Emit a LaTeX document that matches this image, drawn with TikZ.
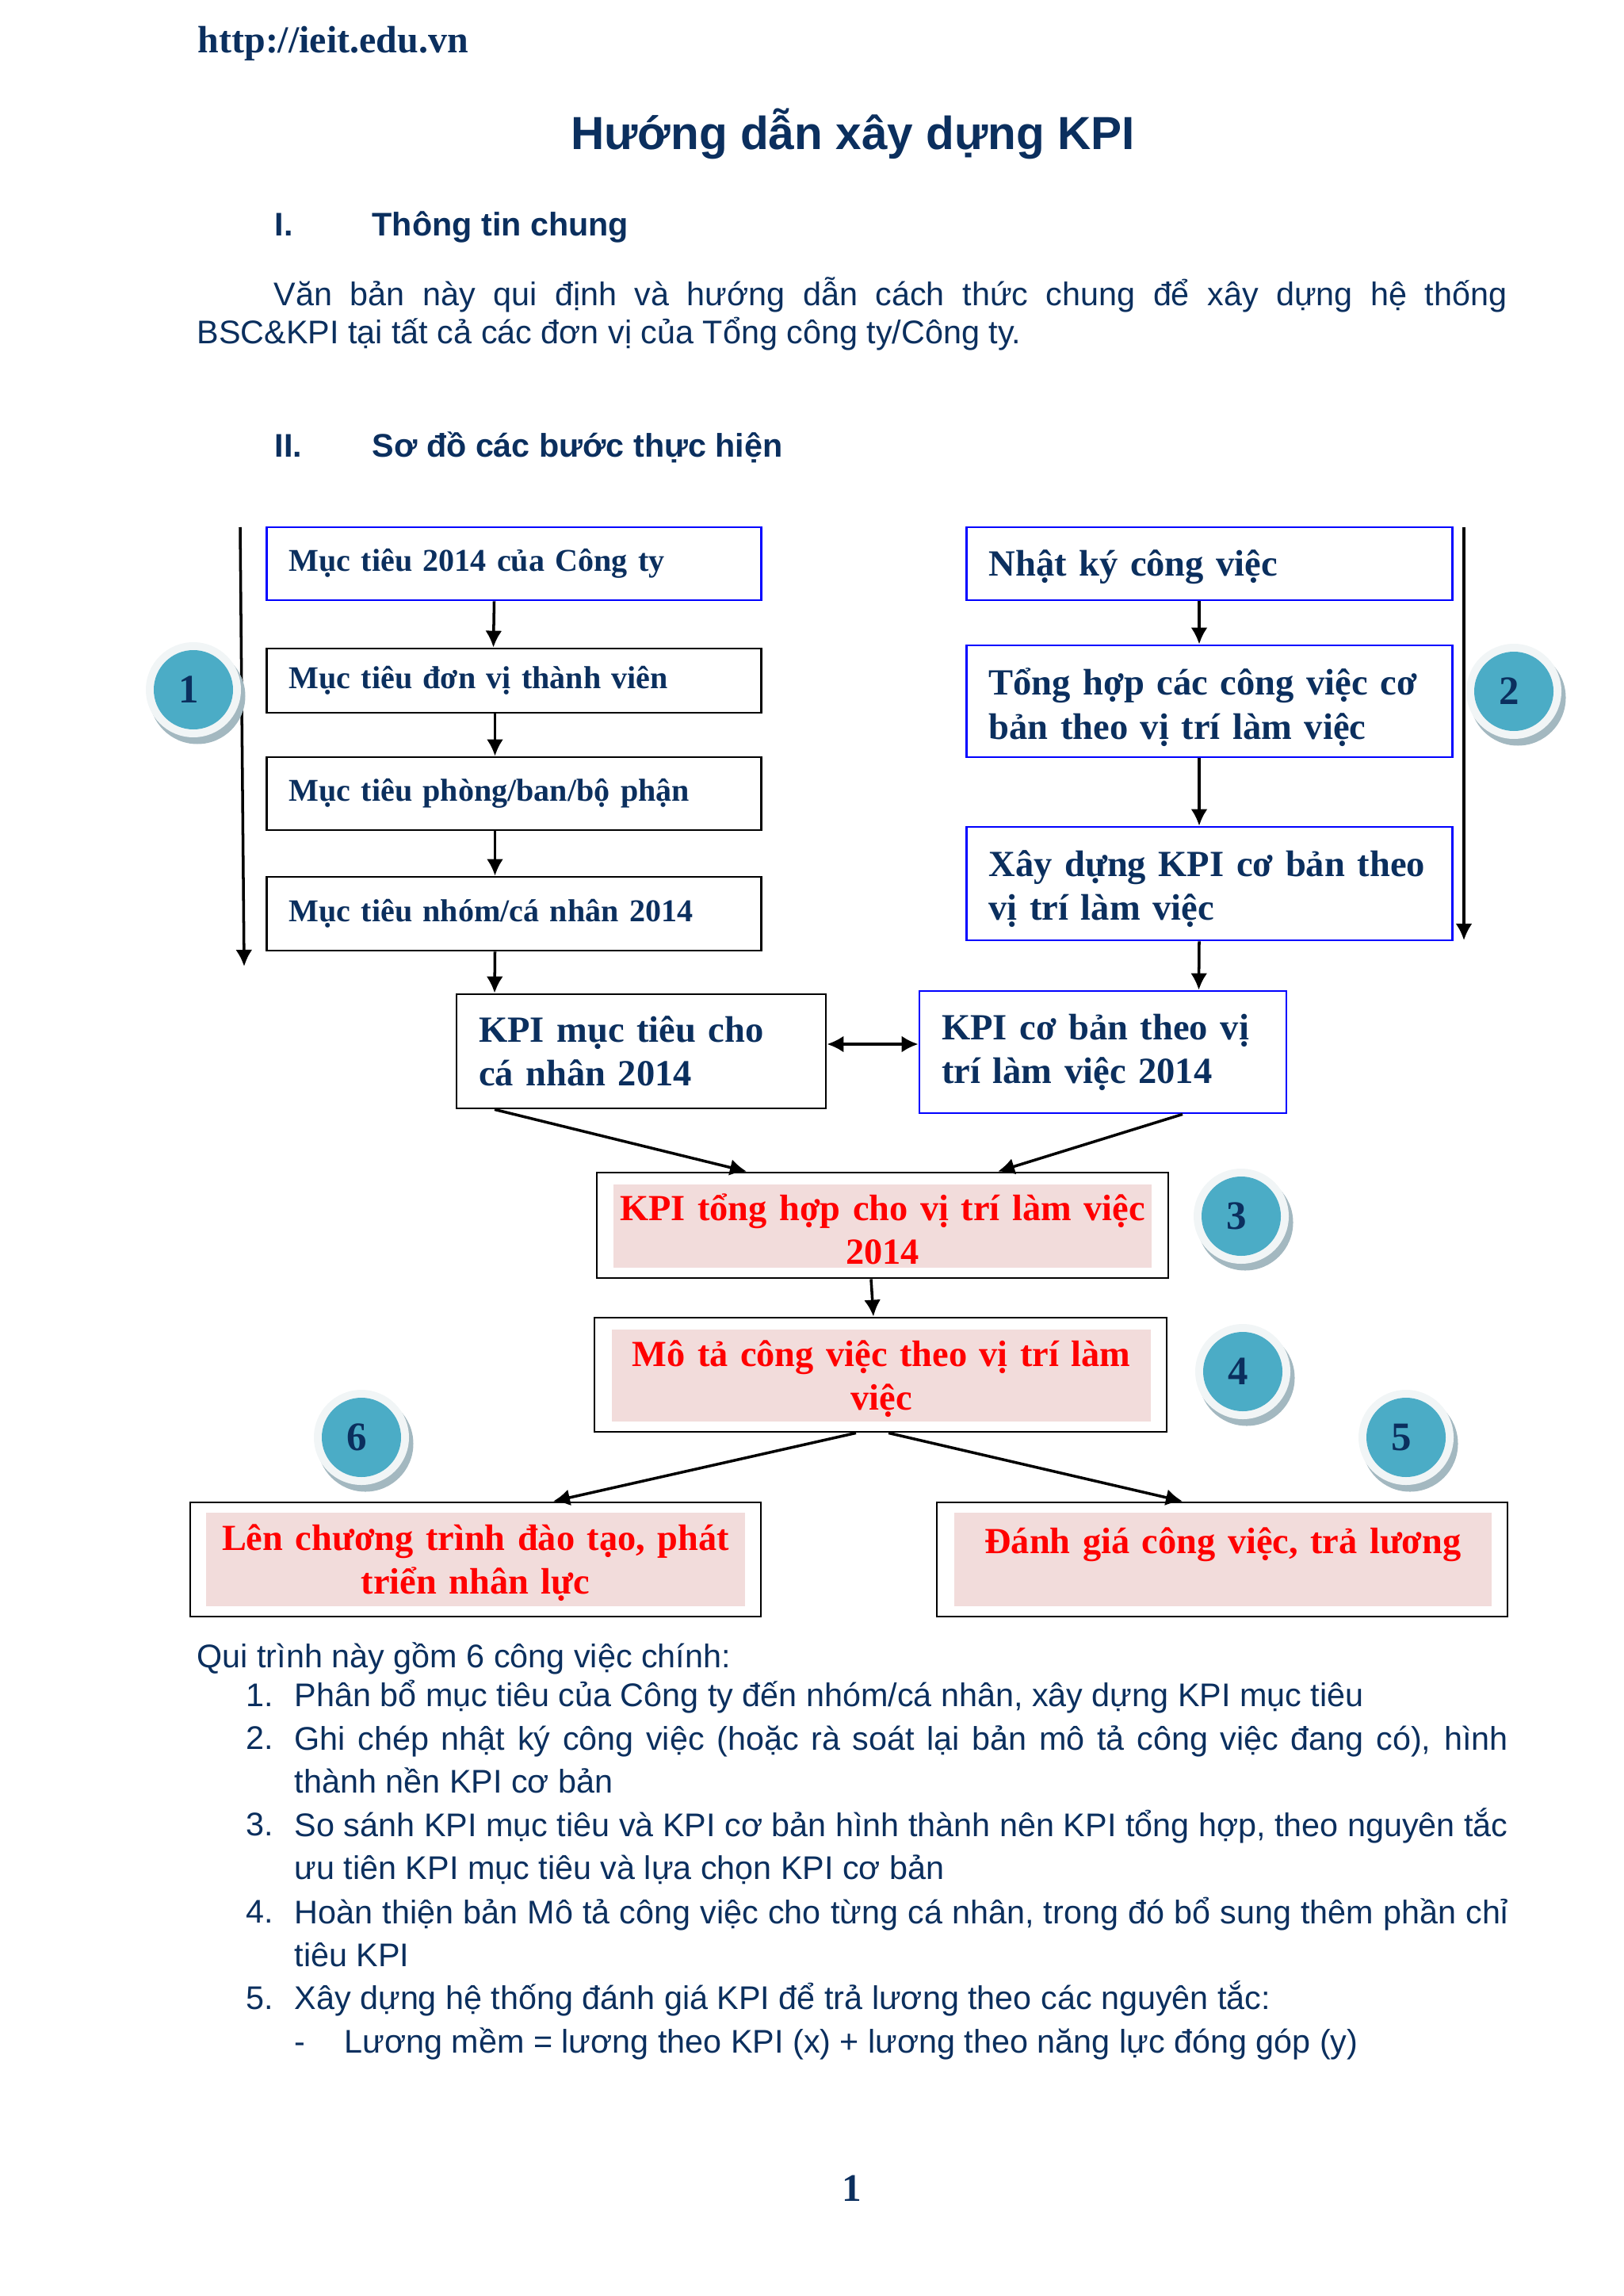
\documentclass[tikz,border=0pt]{standalone}
\usepackage{fontspec}
\setmainfont{Liberation Sans}
\newfontfamily\kpiserif{Liberation Serif}
\usepackage{xcolor}
\usetikzlibrary{arrows.meta,positioning}
\definecolor{kpinavy}{HTML}{0B2F5E}
\definecolor{kpipink}{HTML}{F2DCDB}
\definecolor{kputeal}{HTML}{4BACC6}
\definecolor{kpirim}{HTML}{F1F5F6}
\definecolor{kpishade}{HTML}{A3B8C0}
\tikzset{
  stepbox/.style={draw=black, line width=0.8pt, inner xsep=0.28cm, inner ysep=0pt, align=left, text=kpinavy, font=\kpiserif\bfseries\fontsize{11.4}{15.7}\selectfont},
  bluebox/.style={stepbox, draw=blue},
  bigbox/.style={font=\kpiserif\bfseries\fontsize{13.25}{15.7}\selectfont},
  lowertext/.style={execute at begin node={\rule{0pt}{#1}}},
  outerbox/.style={draw=black, line width=0.8pt, inner sep=0pt},
  redbox/.style={fill=kpipink, inner sep=0pt, align=center, text=red, lowertext=4.1mm, font=\kpiserif\bfseries\fontsize{13.2}{15.7}\selectfont},
  flowarrow/.style={-{Latex[length=2.1mm,width=2.1mm]}, line width=1pt},
  twoarrow/.style={{Latex[length=2.1mm,width=2.1mm]}-{Latex[length=2.1mm,width=2.1mm]}, line width=1pt},
  headtext/.style={anchor=base west, inner sep=0pt, text=kpinavy, font=\bfseries\fontsize{11.75}{14}\selectfont},
  bodytext/.style={anchor=base west, inner sep=0pt, text=kpinavy, font=\fontsize{11.76}{15.6}\selectfont},
  wraptext/.style={anchor=north west, inner sep=0pt, align=justify, text=kpinavy, font=\fontsize{11.76}{15.6}\selectfont, execute at begin node=\strut},
  badgerim/.style={circle, fill=kpirim, minimum size=1.2cm, inner sep=0pt},
  badgeshade/.style={circle, fill=kpishade, minimum size=1.21cm, inner sep=0pt},
  badgedisc/.style={circle, fill=kputeal, minimum size=1cm, inner sep=0pt}
}
\begin{document}
\begin{tikzpicture}
  \useasboundingbox (0,0) rectangle (20.48,-28.96);

  % page heading
  \node[headtext, font=\kpiserif\bfseries\fontsize{13.65}{15}\selectfont] (url) at (2.49,-0.67) {http://ieit.edu.vn};
  \node[headtext, anchor=base, font=\bfseries\fontsize{16.65}{18}\selectfont] (title) at (10.76,-1.89) {Hướng dẫn xây dựng KPI};
  \node[headtext] (secone) at (3.46,-2.98) {I.};
  \node[headtext] (seconetext) at (4.69,-2.98) {Thông tin chung};
  \node[wraptext, text width=16.53cm, font=\fontsize{11.76}{13.6}\selectfont] (intro) at (2.48,-3.49)
    {\hspace*{0.97cm}Văn bản này qui định và hướng dẫn cách thức chung để xây dựng hệ thống\linebreak BSC\&KPI tại tất cả các đơn vị của Tổng công ty/Công ty.};
  \node[headtext] (sectwo) at (3.46,-5.77) {II.};
  \node[headtext] (sectwotext) at (4.69,-5.77) {Sơ đồ các bước thực hiện};

  % left column
  \node[bluebox, text width=5.68cm, minimum height=0.92cm] (cty) at (6.485,-7.11) {Mục tiêu 2014 của Công ty};
  \node[stepbox, text width=5.68cm, minimum height=0.81cm] (donvi) at (6.485,-8.585) {Mục tiêu đơn vị thành viên};
  \node[stepbox, text width=5.68cm, minimum height=0.92cm] (phong) at (6.485,-10.01) {Mục tiêu phòng/ban/bộ phận};
  \node[stepbox, text width=5.68cm, minimum height=0.93cm] (nhom) at (6.485,-11.525) {Mục tiêu nhóm/cá nhân 2014};

  % right column
  \node[bluebox, bigbox, lowertext=4.1mm, text width=5.57cm, minimum height=0.92cm] (nhatky) at (15.26,-7.11) {Nhật ký công việc};
  \node[bluebox, bigbox, lowertext=4.9mm, text width=5.57cm, minimum height=1.41cm] (tonghop) at (15.26,-8.845) {Tổng hợp các công việc cơ\\bản theo vị trí làm việc};
  \node[bluebox, bigbox, lowertext=4.6mm, text width=5.57cm, minimum height=1.43cm] (xaydung) at (15.26,-11.145) {Xây dựng KPI cơ bản theo\\vị trí làm việc};

  % middle row
  \node[stepbox, bigbox, text width=4.1cm, minimum height=1.44cm] (kpimuctieu) at (8.09,-13.26) {KPI mục tiêu cho\\cá nhân 2014};
  \node[bluebox, bigbox, text width=4.07cm, minimum height=1.54cm] (kpicoban) at (13.915,-13.27) {KPI cơ bản theo vị\\trí làm việc 2014};

  % red boxes
  \node[outerbox, minimum width=7.21cm, minimum height=1.33cm] (tonghopkpi) at (11.135,-15.455) {};
  \node[redbox, text width=6.79cm, minimum height=1.05cm] (tonghopkpitext) at (11.135,-15.465) {KPI tổng hợp cho vị trí làm việc\\2014};
  \node[outerbox, minimum width=7.22cm, minimum height=1.44cm] (mota) at (11.11,-17.34) {};
  \node[redbox, text width=6.8cm, minimum height=1.16cm] (motatext) at (11.12,-17.35) {Mô tả công việc theo vị trí làm\\việc};
  \node[outerbox, minimum width=7.2cm, minimum height=1.44cm] (daotao) at (6,-19.67) {};
  \node[redbox, text width=6.8cm, minimum height=1.18cm] (daotaotext) at (6,-19.67) {Lên chương trình đào tạo, phát\\triển nhân lực};
  \node[outerbox, minimum width=7.2cm, minimum height=1.44cm] (danhgia) at (15.42,-19.67) {};
  \node[redbox, text width=6.78cm, minimum height=1.18cm] (danhgiatext) at (15.43,-19.67) {Đánh giá công việc, trả lương\\~};

  % connectors
  \draw[flowarrow] ([xshift=-0.25cm]cty.south) -- ([xshift=-0.26cm]donvi.north);
  \draw[flowarrow] ([xshift=-0.24cm]donvi.south) -- ([xshift=-0.24cm]phong.north);
  \draw[flowarrow] ([xshift=-0.24cm]phong.south) -- ([xshift=-0.24cm]nhom.north);
  \draw[flowarrow] ([xshift=-0.24cm]nhom.south) -- ([xshift=-1.85cm]kpimuctieu.north);
  \draw[flowarrow] ([xshift=-0.13cm]nhatky.south) -- ([xshift=-0.13cm]tonghop.north);
  \draw[flowarrow] ([xshift=-0.13cm]tonghop.south) -- ([xshift=-0.13cm]xaydung.north);
  \draw[flowarrow] ([xshift=-0.13cm]xaydung.south) -- ([xshift=1.21cm]kpicoban.north);
  \draw[twoarrow] ([yshift=0.09cm]kpimuctieu.east) -- ([yshift=0.10cm]kpicoban.west);
  \draw[flowarrow] ([xshift=-1.85cm]kpimuctieu.south) -- ([xshift=-1.715cm]tonghopkpi.north);
  \draw[flowarrow] ([xshift=1.005cm]kpicoban.south) -- ([xshift=1.455cm]tonghopkpi.north);
  \draw[flowarrow] ([xshift=-0.145cm]tonghopkpi.south) -- ([xshift=-0.09cm]mota.north);
  \draw[flowarrow] ([xshift=-0.31cm]mota.south) -- ([xshift=0.98cm]daotao.north);
  \draw[flowarrow] ([xshift=0.10cm]mota.south) -- ([xshift=-0.50cm]danhgia.north);

  \coordinate (lefttop) at (3.03,-6.65);
  \coordinate (leftend) at (3.08,-12.19);
  \coordinate (righttop) at (18.47,-6.65);
  \coordinate (rightend) at (18.47,-11.86);
  \draw[flowarrow] (lefttop) -- (leftend);
  \draw[flowarrow] (righttop) -- (rightend);

  % numbered badges
  \foreach \n/\x/\y in {1/2.44/-8.70, 2/19.10/-8.72, 3/15.66/-15.34, 4/15.68/-17.30, 5/17.74/-18.13, 6/4.56/-18.13} {
    \node[badgeshade] (shade\n) at (\x+0.05,\y-0.08) {};
    \node[badgerim] (rim\n) at (\x,\y) {};
    \node[badgedisc, font=\kpiserif\bfseries\fontsize{14.5}{16}\selectfont, text=kpinavy] (badge\n) at (\x,\y) {\hspace*{-0.11cm}\n};
  }

  % text below the chart
  \node[bodytext] (lead) at (2.48,-21.03) {Qui trình này gồm 6 công việc chính:};
  \node[bodytext] (numone) at (3.10,-21.52) {1.};
  \node[bodytext] (itemone) at (3.71,-21.52) {Phân bổ mục tiêu của Công ty đến nhóm/cá nhân, xây dựng KPI mục tiêu};
  \node[bodytext] (numtwo) at (3.10,-22.06) {2.};
  \node[wraptext, text width=15.31cm] (itemtwo) at (3.71,-21.68) {Ghi chép nhật ký công việc (hoặc rà soát lại bản mô tả công việc đang có), hình\linebreak thành nền KPI cơ bản};
  \node[bodytext] (numthree) at (3.10,-23.15) {3.};
  \node[wraptext, text width=15.31cm] (itemthree) at (3.71,-22.77) {So sánh KPI mục tiêu và KPI cơ bản hình thành nên KPI tổng hợp, theo nguyên tắc\linebreak ưu tiên KPI mục tiêu và lựa chọn KPI cơ bản};
  \node[bodytext] (numfour) at (3.10,-24.25) {4.};
  \node[wraptext, text width=15.31cm] (itemfour) at (3.71,-23.87) {Hoàn thiện bản Mô tả công việc cho từng cá nhân, trong đó bổ sung thêm phần chỉ\linebreak tiêu KPI};
  \node[bodytext] (numfive) at (3.10,-25.34) {5.};
  \node[bodytext] (itemfive) at (3.71,-25.34) {Xây dựng hệ thống đánh giá KPI để trả lương theo các nguyên tắc:};
  \node[bodytext] (dash) at (3.71,-25.89) {-};
  \node[bodytext] (itemdash) at (4.34,-25.89) {Lương mềm = lương theo KPI (x) + lương theo năng lực đóng góp (y)};

  \node[headtext, anchor=base, font=\kpiserif\bfseries\fontsize{14}{16}\selectfont] (pagenum) at (10.75,-27.76) {1};
\end{tikzpicture}
\end{document}
